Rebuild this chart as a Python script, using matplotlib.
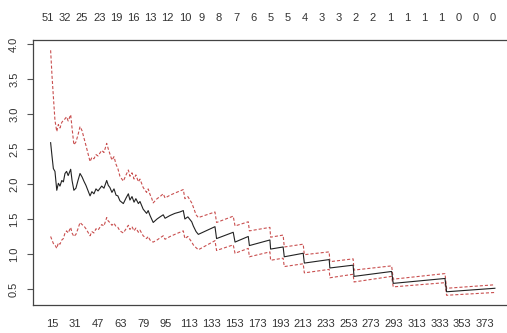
import numpy as np
import matplotlib
matplotlib.use('Agg')
import matplotlib.pyplot as plt

plt.rcParams.update({
    'font.family': ['Liberation Sans', 'DejaVu Sans'],
    'font.size': 8,
    'axes.facecolor': 'white',
    'figure.facecolor': 'white',
})

# bottom axis: order statistics, evenly placed tick labels
bottom_labels = [15, 31, 47, 63, 79, 95, 113, 133, 153, 173,
                 193, 213, 233, 253, 273, 293, 313, 333, 353, 373]
# top axis: thresholds
top_labels = [51, 32, 25, 23, 19, 16, 13, 12, 10, 9, 8, 7, 6, 5,
              5, 4, 3, 3, 2, 2, 1, 1, 1, 1, 0, 0, 0]

# position along the bottom axis (in tick steps) and the estimate
pos = [-0.06, 0.00, 0.06, 0.13, 0.21, 0.28, 0.35, 0.43, 0.50, 0.57,
       0.64, 0.71, 0.82, 0.88, 0.96, 1.05, 1.14, 1.23, 1.32, 1.40,
       1.49, 1.67, 1.75, 1.84, 1.93, 2.02, 2.18, 2.28, 2.40, 2.47,
       2.54, 2.63, 2.72, 2.81, 2.89, 2.98, 3.13, 3.25, 3.35, 3.42,
       3.51, 3.60, 3.68, 3.79, 3.86, 4.00, 4.15, 4.22, 4.30, 4.37,
       4.44, 4.61, 4.74, 4.88, 4.96, 5.18, 5.39, 5.61, 5.76, 5.83,
       5.96, 6.13, 6.20, 6.32, 6.42, 7.15, 7.22, 7.95, 8.03, 8.61,
       8.66, 9.56, 9.59, 10.14, 10.19, 11.02, 11.07, 12.16, 12.19, 13.21,
       13.25, 14.90, 14.97, 17.24, 17.31, 19.43]

estimate = [2.59, 2.40, 2.22, 2.18, 1.91, 2.01, 1.97, 2.05, 2.03, 2.15,
            2.18, 2.12, 2.21, 2.05, 1.91, 1.94, 2.05, 2.15, 2.10, 2.04,
            1.98, 1.83, 1.89, 1.86, 1.93, 1.90, 1.97, 1.94, 2.05, 1.98,
            1.95, 1.88, 1.93, 1.84, 1.83, 1.76, 1.72, 1.80, 1.86, 1.77,
            1.82, 1.74, 1.79, 1.72, 1.75, 1.64, 1.58, 1.62, 1.55, 1.50,
            1.45, 1.50, 1.53, 1.56, 1.51, 1.55, 1.58, 1.60, 1.62, 1.50,
            1.53, 1.46, 1.40, 1.32, 1.28, 1.39, 1.22, 1.31, 1.17, 1.25,
            1.12, 1.20, 1.07, 1.10, 0.96, 1.01, 0.87, 0.92, 0.80, 0.84,
            0.68, 0.75, 0.58, 0.65, 0.46, 0.51]

upper = [3.91, 3.55, 3.25, 2.91, 2.75, 2.85, 2.80, 2.88, 2.91, 2.93,
         2.96, 2.90, 2.99, 2.80, 2.56, 2.60, 2.70, 2.82, 2.76, 2.66,
         2.55, 2.32, 2.38, 2.36, 2.42, 2.40, 2.48, 2.45, 2.58, 2.50,
         2.43, 2.34, 2.39, 2.28, 2.22, 2.11, 2.04, 2.13, 2.20, 2.11,
         2.16, 2.07, 2.13, 2.03, 2.07, 1.95, 1.88, 1.93, 1.85, 1.80,
         1.73, 1.79, 1.82, 1.86, 1.80, 1.84, 1.87, 1.90, 1.92, 1.79,
         1.82, 1.73, 1.67, 1.56, 1.52, 1.60, 1.45, 1.54, 1.40, 1.46,
         1.33, 1.38, 1.24, 1.27, 1.10, 1.14, 0.99, 1.03, 0.89, 0.93,
         0.77, 0.83, 0.64, 0.72, 0.51, 0.56]

lower = [1.25, 1.20, 1.15, 1.13, 1.08, 1.16, 1.14, 1.20, 1.22, 1.30,
         1.33, 1.30, 1.38, 1.30, 1.25, 1.28, 1.36, 1.45, 1.42, 1.40,
         1.36, 1.26, 1.32, 1.30, 1.36, 1.34, 1.42, 1.40, 1.52, 1.47,
         1.45, 1.41, 1.44, 1.39, 1.38, 1.33, 1.30, 1.36, 1.41, 1.35,
         1.39, 1.33, 1.37, 1.31, 1.34, 1.26, 1.22, 1.25, 1.20, 1.18,
         1.17, 1.20, 1.23, 1.26, 1.21, 1.25, 1.28, 1.31, 1.33, 1.22,
         1.25, 1.17, 1.13, 1.09, 1.06, 1.19, 1.05, 1.13, 1.01, 1.08,
         0.96, 1.03, 0.91, 0.94, 0.82, 0.86, 0.73, 0.78, 0.66, 0.71,
         0.60, 0.68, 0.53, 0.59, 0.41, 0.45]

fig = plt.figure(figsize=(5.07, 3.33), dpi=100)
ax = fig.add_axes([33/507, 28/333, 479/507, 265/333])

ci_color = '#c94f4f'
ax.plot(pos, upper, color=ci_color, lw=0.8, dashes=(2.8, 1.8))
ax.plot(pos, lower, color=ci_color, lw=0.8, dashes=(2.8, 1.8))
ax.plot(pos, estimate, color='#222222', lw=0.8)

ax.set_xlim(-0.833, 20.18)
ax.set_ylim(0.271, 4.057)

# bottom axis
ax.set_xticks(np.arange(len(bottom_labels)))
ax.set_xticklabels([str(v) for v in bottom_labels])
ax.tick_params(axis='x', length=0, pad=10.4, colors='#333333')

# y axis, labels rotated like R
ax.set_yticks(np.arange(0.5, 4.01, 0.5))
ax.set_yticklabels([f'{v:.1f}' for v in np.arange(0.5, 4.01, 0.5)])
ax.tick_params(axis='y', length=4, width=0.8, pad=6, colors='#555555',
               labelcolor='#333333')
plt.setp(ax.get_yticklabels(), rotation=90, va='center')

# top axis with thresholds
top = ax.secondary_xaxis('top')
top.set_xticks(np.linspace(-0.18, 19.34, len(top_labels)))
top.set_xticklabels([str(v) for v in top_labels])
top.tick_params(length=0, pad=11.9, colors='#333333')
top.spines['top'].set_visible(False)

for side in ['top', 'bottom', 'left']:
    ax.spines[side].set_color('#444444')
    ax.spines[side].set_linewidth(0.9)
ax.spines['right'].set_visible(False)

plt.savefig('out.png', dpi=100)
